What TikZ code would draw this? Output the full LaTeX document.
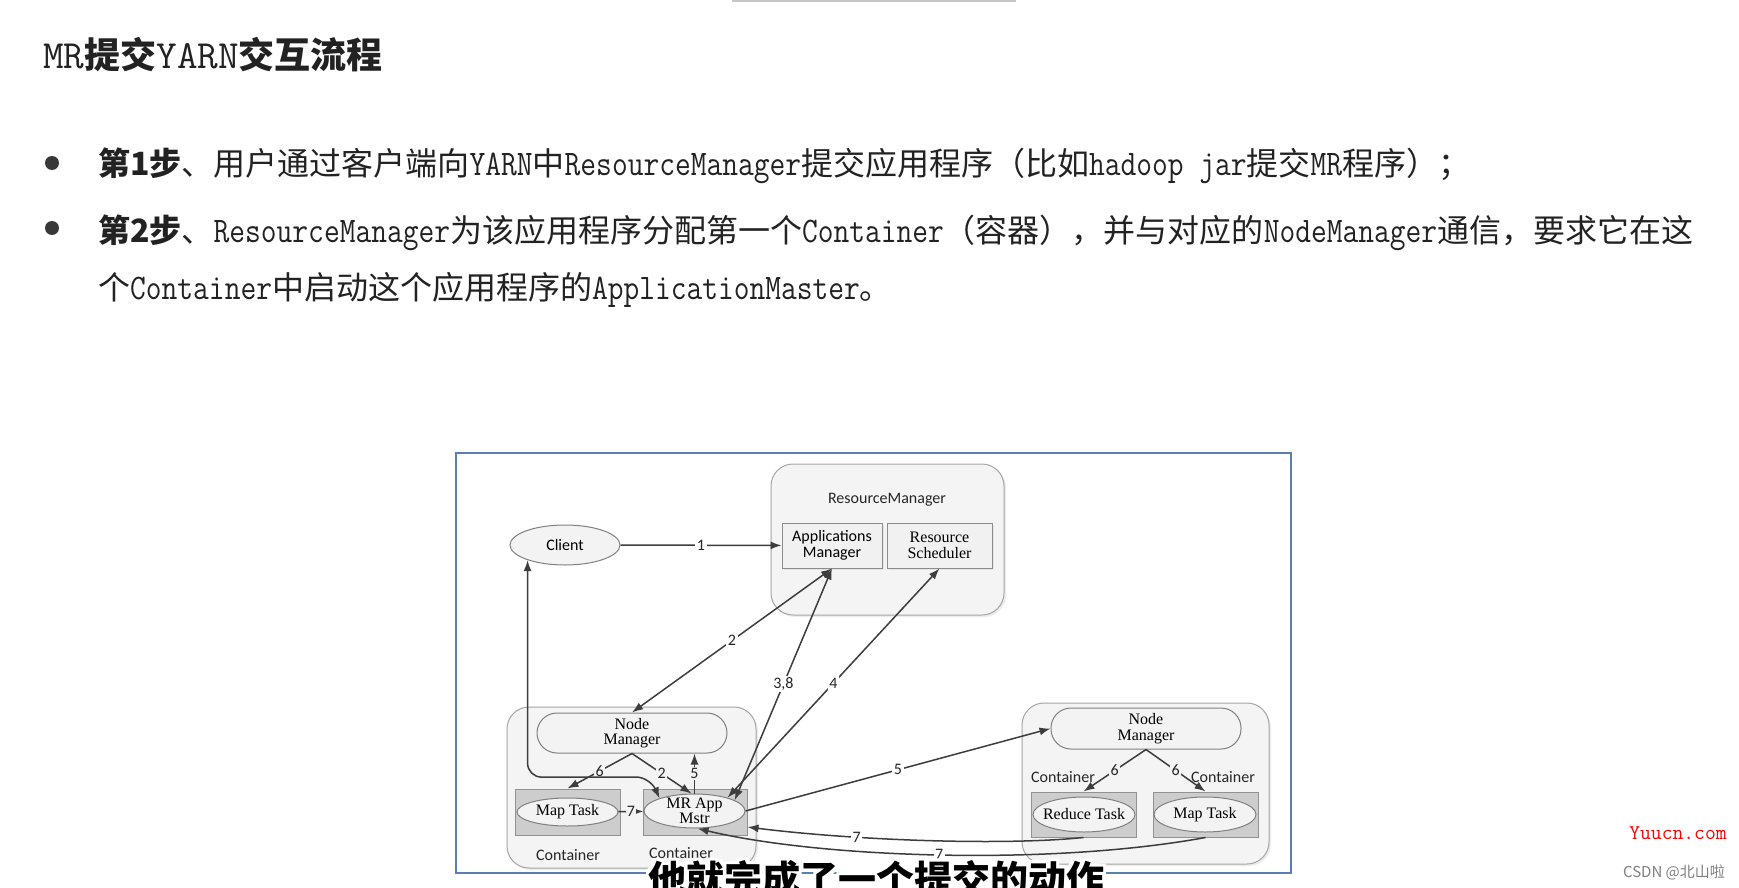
\documentclass[tikz,border=0pt]{standalone}
\usepackage{fontspec}
\setmainfont{Noto Sans CJK SC}
\newfontfamily\monofont[FakeStretch=0.85]{Latin Modern Mono}
\newfontfamily\titlemono{Latin Modern Mono}
\newfontfamily\diasans{Carlito}
\newfontfamily\diaserif{Liberation Serif}
\usetikzlibrary{arrows.meta,shapes.geometric,shadows}
\definecolor{ink}{HTML}{222222}
\definecolor{framec}{HTML}{5A7FB0}
\definecolor{arrowc}{HTML}{3D3D3D}
\definecolor{grpfill}{HTML}{F4F4F4}
\definecolor{grpdraw}{HTML}{A6A6A6}
\definecolor{boxfill}{HTML}{F1F1F1}
\definecolor{boxdraw}{HTML}{8C8C8C}
\definecolor{cfill}{HTML}{CDCDCD}
\definecolor{cdraw}{HTML}{929292}
\definecolor{ellfill}{HTML}{F3F3F3}
\definecolor{elldraw}{HTML}{808080}
\newcommand\en[1]{{\monofont\mdseries\fontsize{36}{36}\selectfont #1}}
\newcommand\ent[1]{{\titlemono\mdseries\fontsize{40}{40}\selectfont #1}}

\begin{document}
\begin{tikzpicture}[x=1pt,y=-1pt,
  grp/.style={draw=grpdraw, fill=grpfill, rounded corners=22pt, line width=1pt, inner sep=0pt,
    drop shadow={opacity=0.15, shadow xshift=2pt, shadow yshift=-2pt}},
  pill/.style={draw=elldraw, fill=ellfill, rounded corners=20pt, line width=1pt,
    minimum width=190pt, minimum height=40pt, inner sep=2pt, align=center,
    font=\diaserif\fontsize{16}{15.5}\selectfont},
  cbox/.style={draw=cdraw, fill=cfill, line width=1pt, minimum width=105pt, minimum height=46pt},
  task/.style={ellipse, draw=elldraw, fill=ellfill, line width=1pt, minimum width=101pt,
    inner xsep=-14pt, inner ysep=-8pt, align=center, font=\diaserif\fontsize{16}{15}\selectfont},
  sbox/.style={draw=boxdraw, fill=boxfill, line width=1pt, minimum width=100pt, minimum height=45pt,
    inner sep=1pt, align=center, drop shadow={opacity=0.12, shadow xshift=2pt, shadow yshift=-2pt}},
  lab/.style={inner sep=0pt, font=\diasans\fontsize{16}{18}\selectfont, text=black!85},
  num/.style={fill=white, inner sep=1.5pt, font=\diasans\fontsize{16}{18}\selectfont, text=black!85},
  flow/.style={draw=arrowc, line width=1.5pt, -{Latex[length=11pt,width=8pt]}},
  dflow/.style={flow, {Latex[length=11pt,width=8pt]}-{Latex[length=11pt,width=8pt]}},
  line/.style={anchor=base west, inner sep=0pt, text=ink, font=\fontsize{32}{38}\selectfont},
  subt/.style={anchor=base, inner sep=0pt, font=\bfseries\fontsize{38}{40}\selectfont}
]
\useasboundingbox (0,0) rectangle (1739,888);
\fill[white] (0,0) rectangle (1739,888);
\fill[gray!45] (732,0) rectangle (1016,2);

\node[anchor=base west, inner sep=0pt, text=ink, font=\bfseries\fontsize{36}{40}\selectfont] (title) at (43,69) {\ent{MR}提交\ent{YARN}交互流程};

\node[circle, fill=ink!90, minimum size=14pt, inner sep=0pt] (b1) at (52,163) {};
\node[circle, fill=ink!90, minimum size=14pt, inner sep=0pt] (b2) at (52,228) {};
\node[line] (s1) at (98,175) {{\bfseries 第1步}、用户通过客户端向\en{YARN}中\en{ResourceManager}提交应用程序（比如\en{hadoop jar}提交\en{MR}程序）；};
\node[line] (s2) at (98,242) {{\bfseries 第2步}、\en{ResourceManager}为该应用程序分配第一个\en{Container}（容器），并与对应的\en{NodeManager}通信，要求它在这};
\node[line] (s3) at (98,299) {个\en{Container}中启动这个应用程序的\en{ApplicationMaster}。};

\draw[framec, line width=2pt] (456,453) rectangle (1291,873);

\node[grp, minimum width=233pt, minimum height=151pt] (rm) at (887.5,539.5) {};
\node[lab] (rmt) at (887,500) {ResourceManager};
\node[sbox, font=\diasans\fontsize{16}{16}\selectfont] (am) at (832,545.5) {Applications\\Manager};
\node[sbox, minimum width=105pt, font=\diaserif\fontsize{16}{16}\selectfont] (rs) at (939.5,545.5) {Resource\\Scheduler};
\node[task, minimum width=110pt, minimum height=40pt, font=\diasans\fontsize{16}{18}\selectfont] (cl) at (565,545) {Client};

\node[grp, minimum width=249pt, minimum height=161pt] (ga) at (631.5,787.5) {};
\node[pill] (nml) at (632,733) {Node\\Manager};
\node[cbox] (mtb) at (567.5,812) {};
\node[cbox, minimum width=104pt] (mrb) at (695,812) {};
\node[task, minimum height=28pt] (mt) at (567.5,812) {Map Task};
\node[task, minimum height=34pt] (mr) at (694.5,811) {MR App\\Mstr};
\node[lab] (ca1) at (568,855) {Container};
\node[lab] (ca2) at (681,853) {Container};

\node[grp, minimum width=247pt, minimum height=161pt] (gb) at (1145.5,783.5) {};
\node[pill, minimum height=41pt] (nmr) at (1146,728.5) {Node\\Manager};
\node[cbox, minimum height=45pt] (rdb) at (1083.5,814.5) {};
\node[cbox, minimum height=45pt] (mpb) at (1205.5,814.5) {};
\node[task, minimum width=102pt, minimum height=35pt] (rd) at (1084,814.5) {Reduce Task};
\node[task, minimum width=102pt, minimum height=35pt] (mp) at (1205,814.5) {Map Task};
\node[lab] (cb1) at (1063,777) {Container};
\node[lab] (cb2) at (1223,777) {Container};

\draw[flow] (cl) -- node[num] {1} (am);
\draw[dflow] (nml.north) -- node[num] {2} (am.south);
\draw[dflow] (mr.15) -- node[num] {3,8} (am.south);
\draw[dflow] (mr.22) -- node[num] {4} (rs.south);
\draw[flow] (mr.east) -- node[num] {5} (nmr.west);
\draw[flow] (mr.north) -- node[num, fill=grpfill] {5} (mr.north |- nml.south);
\draw[flow] (nml.south) -- node[num, fill=grpfill] {6} (mtb.north);
\draw[flow] (nml.south) -- node[num, fill=grpfill] {2} (mr.100);
\draw[flow] (mt) -- node[num, fill=grpfill, inner sep=0.5pt] {7} (mr);
\draw[dflow, rounded corners=14pt] (cl.202) -- ++(0,217) -- (650,777) -- (mr.160);
\draw[flow] (nmr.south) -- node[num, fill=grpfill] {6} (rdb.north);
\draw[flow] (nmr.south) -- node[num, fill=grpfill] {6} (mpb.north);
\draw[flow] (rdb.south) .. controls (1000,846) and (850,840) .. ([yshift=-15pt]mrb.east) node[num, pos=0.68] {7};
\draw[flow] (mpb.south) .. controls (1050,866) and (820,858) .. (mr.-80) node[num, pos=0.5] {7};

\foreach \dx/\dy [count=\i] in {-3/-3,0/-3,3/-3,-3/0,3/0,-3/3,0/3,3/3}
  \node[subt, text=white, shift={(\dx,\dy)}] (sub\i) at (876.5,893) {他就完成了一个提交的动作};
\node[subt, text=black] (sub) at (876.5,893) {他就完成了一个提交的动作};

\node[inner sep=0pt, text=red, font=\titlemono\fontsize{21}{21}\selectfont] (wm) at (1678,833) {Yuucn.com};
\node[inner sep=0pt, text=gray, font=\fontsize{15}{15}\selectfont] (csdn) at (1674,872) {CSDN @北山啦};
\end{tikzpicture}
\end{document}
